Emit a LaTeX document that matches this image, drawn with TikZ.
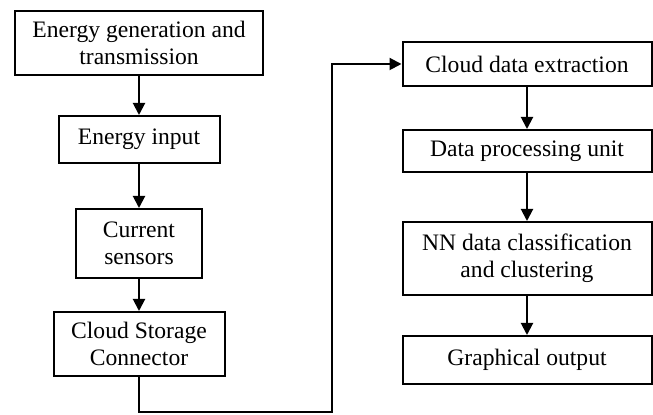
\documentclass[tikz,border=0pt]{standalone}
\usepackage{fontspec}
\setmainfont{Liberation Serif}
\usetikzlibrary{arrows.meta}
\tikzset{
BOX/.style n args={2}{draw=black,line width=1pt,minimum width=#1*0.5pt,minimum height=#2*0.5pt,inner sep=0pt,align=center,font=\fontsize{11.8}{13.5}\selectfont},
LINK/.style={draw=black,line width=1pt,-{Triangle[length=6pt,width=6pt]}},
}
\begin{document}
\begin{tikzpicture}
[x=0.5pt, y=-0.5pt]
	\useasboundingbox (0,0) rectangle (653,415);
	\node[BOX={248}{64}] (gen) at (139,43) {Energy generation and\\transmission};
	\node[BOX={161}{47}] (input) at (139,139.5) {Energy input};
	\node[BOX={126}{69}] (sens) at (139,243.5) {Current\\sensors};
	\node[BOX={171}{64}] (store) at (139,344) {Cloud Storage\\Connector};
	\node[BOX={249}{44}] (extr) at (527,64) {Cloud data extraction};
	\node[BOX={249}{42}] (proc) at (527,151) {Data processing unit};
	\node[BOX={249}{73}] (clas) at (527,258.5) {NN data classification\\and clustering};
	\node[BOX={249}{48}] (outp) at (527,360) {Graphical output};
	\coordinate (turn) at (332,412);
	\path[LINK] (gen) -- (input);
	\path[LINK] (input) -- (sens);
	\path[LINK] (sens) -- (store);
	\path[LINK] (store.south) |- (turn) |- (extr.west);
	\path[LINK] (extr) -- (proc);
	\path[LINK] (proc) -- (clas);
	\path[LINK] (clas) -- (outp);
\end{tikzpicture}
\end{document}
